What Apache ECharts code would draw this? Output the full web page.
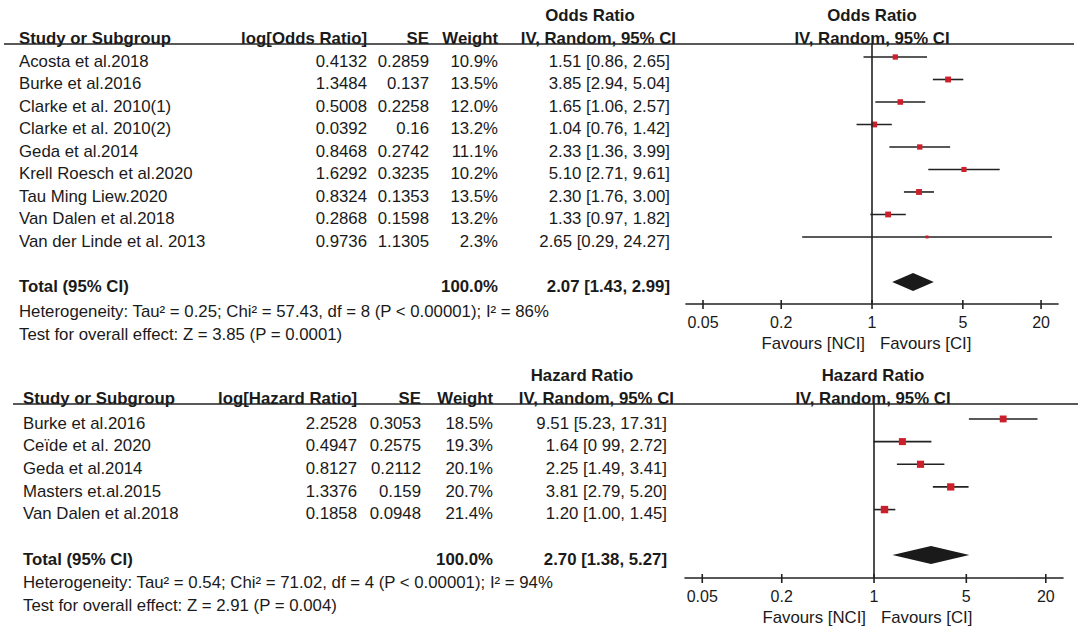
<!DOCTYPE html>
<html><head><meta charset="utf-8">
<script src="https://cdn.jsdelivr.net/npm/echarts@6/dist/echarts.min.js"></script>
<style>html,body{margin:0;padding:0;background:#fff}#c{width:1084px;height:633px}</style>
</head><body><div id="c"></div>
<script>
// ---------- Odds ratio panel data ----------
const orStudies = ['Acosta et al.2018','Burke et al.2016','Clarke et al. 2010(1)','Clarke et al. 2010(2)','Geda et al.2014','Krell Roesch et al.2020','Tau Ming Liew.2020','Van Dalen et al.2018','Van der Linde et al. 2013'];
const orLog = ['0.4132','1.3484','0.5008','0.0392','0.8468','1.6292','0.8324','0.2868','0.9736'];
const orSE = ['0.2859','0.137','0.2258','0.16','0.2742','0.3235','0.1353','0.1598','1.1305'];
const orWeight = [10.9,13.5,12.0,13.2,11.1,10.2,13.5,13.2,2.3];
const orEst = [1.51,3.85,1.65,1.04,2.33,5.10,2.30,1.33,2.65];
const orLo = [0.86,2.94,1.06,0.76,1.36,2.71,1.76,0.97,0.29];
const orHi = [2.65,5.04,2.57,1.42,3.99,9.61,3.00,1.82,24.27];
const orCI = ['1.51 [0.86, 2.65]','3.85 [2.94, 5.04]','1.65 [1.06, 2.57]','1.04 [0.76, 1.42]','2.33 [1.36, 3.99]','5.10 [2.71, 9.61]','2.30 [1.76, 3.00]','1.33 [0.97, 1.82]','2.65 [0.29, 24.27]'];
const orTotal = [2.07,1.43,2.99];
const orTotalText = '2.07 [1.43, 2.99]';
const orHet = 'Heterogeneity: Tau² = 0.25; Chi² = 57.43, df = 8 (P < 0.00001); I² = 86%';
const orTest = 'Test for overall effect: Z = 3.85 (P = 0.0001)';

// ---------- Hazard ratio panel data ----------
const hrStudies = ['Burke et al.2016','Ceïde et al. 2020','Geda et al.2014','Masters et.al.2015','Van Dalen et al.2018'];
const hrLog = ['2.2528','0.4947','0.8127','1.3376','0.1858'];
const hrSE = ['0.3053','0.2575','0.2112','0.159','0.0948'];
const hrWeight = [18.5,19.3,20.1,20.7,21.4];
const hrEst = [9.51,1.64,2.25,3.81,1.20];
const hrLo = [5.23,0.99,1.49,2.79,1.00];
const hrHi = [17.31,2.72,3.41,5.20,1.45];
const hrCI = ['9.51 [5.23, 17.31]','1.64 [0 99, 2.72]','2.25 [1.49, 3.41]','3.81 [2.79, 5.20]','1.20 [1.00, 1.45]'];
const hrTotal = [2.70,1.38,5.27];
const hrTotalText = '2.70 [1.38, 5.27]';
const hrHet = 'Heterogeneity: Tau² = 0.54; Chi² = 71.02, df = 4 (P < 0.00001); I² = 94%';
const hrTest = 'Test for overall effect: Z = 2.91 (P = 0.004)';

// ---------- axis ticks ----------
const tickValues = [0.05,0.2,1,5,20];
const tickLabels = ['0.05','0.2','1','5','20'];
const axisMin = 0.037, axisMax = 27;

const FONT = '"Liberation Sans", Arial, sans-serif';
const FS = 16;
const SX = 1.05;
const TXT = '#1a1a1a';
const RED = '#cc1f2b';

const chart = echarts.init(document.getElementById('c'), null, {renderer:'svg'});

function txt(x, y, s, align, bold) {
  return {type:'text', x:x, y:y, scaleX:SX, silent:true,
    style:{text:s, fill:TXT, fontSize:FS, fontFamily:FONT, fontWeight: bold ? 'bold' : 'normal', align:align||'left', verticalAlign:'middle'}};
}

function buildPanel(idx, L) {
  const grid = {left:L.gLeft, width:L.gWidth, top:L.gTop, height:L.gHeight, containLabel:false};
  const xAxis = {type:'log', logBase:10, gridIndex:idx, min:axisMin, max:axisMax,
    axisLine:{show:true, onZero:false, lineStyle:{color:'#222', width:1.6}},
    axisTick:{show:false}, minorTick:{show:false}, splitLine:{show:false},
    axisLabel:{customValues:tickValues, margin:10, color:TXT, fontSize:FS, fontFamily:FONT,
      formatter:function(v){ let b=0; tickValues.forEach((t,i)=>{ if(Math.abs(Math.log(t)-Math.log(v))<Math.abs(Math.log(tickValues[b])-Math.log(v))) b=i;}); return tickLabels[b]; }}};
  const yAxis = {type:'value', gridIndex:idx, inverse:true, min:L.yMin, max:L.yMax, show:false};
  const d = L.data;
  const series = [];
  series.push({type:'custom', xAxisIndex:idx, yAxisIndex:idx, clip:false, silent:true,
    data: d.est.map((e,k)=>[e,k,d.lo[k],d.hi[k],d.w[k]]),
    encode:{x:0,y:1},
    renderItem:function(params, api){
      const r = api.value(1);
      const p = api.coord([api.value(0), r]);
      const a = api.coord([api.value(2), r]);
      const b = api.coord([api.value(3), r]);
      const s = Math.max(3, 1.6*Math.sqrt(api.value(4)));
      return {type:'group', children:[
        {type:'line', shape:{x1:a[0],y1:p[1],x2:b[0],y2:p[1]}, style:{stroke:'#222', lineWidth:1.6}},
        {type:'rect', shape:{x:p[0]-s/2,y:p[1]-s/2,width:s,height:s}, style:{fill:RED}}
      ]};
    },
    markLine:{silent:true, symbol:['none','none'], label:{show:false},
      lineStyle:{color:'#222', width:1.6, type:'solid'}, data:[{xAxis:1}]}
  });
  series.push({type:'custom', xAxisIndex:idx, yAxisIndex:idx, clip:false, silent:true,
    data:[[d.total[0], d.totalRow, d.total[1], d.total[2]]],
    encode:{x:0,y:1},
    renderItem:function(params, api){
      const r = api.value(1);
      const p = api.coord([api.value(0), r]);
      const a = api.coord([api.value(2), r]);
      const b = api.coord([api.value(3), r]);
      return {type:'polygon', shape:{points:[[a[0],p[1]],[p[0],p[1]-9],[b[0],p[1]],[p[0],p[1]+9]]}, style:{fill:'#1a1a1a'}};
    }
  });
  series.push({type:'custom', xAxisIndex:idx, yAxisIndex:idx, clip:false, silent:true,
    data: tickValues.map(v=>[v, L.yMax]),
    encode:{x:0,y:1},
    renderItem:function(params, api){
      const p = api.coord([api.value(0), api.value(1)]);
      return {type:'line', shape:{x1:p[0],y1:p[1]-4,x2:p[0],y2:p[1]+5}, style:{stroke:'#222', lineWidth:1.6}};
    }
  });
  series.push({type:'custom', xAxisIndex:idx, yAxisIndex:idx, clip:false, silent:true,
    data: d.names.map((n,k)=>[1,k]),
    encode:{x:0,y:1},
    renderItem:function(params, api){
      const k = params.dataIndex;
      const y = api.coord([1, api.value(1)])[1] + 4;
      return {type:'group', children:[
        txt(L.cName, y, d.names[k], 'left'),
        txt(L.cLog, y, d.logv[k], 'right'),
        txt(L.cSE, y, d.se[k], 'right'),
        txt(L.cW, y, d.w[k].toFixed(1)+'%', 'right'),
        txt(L.cCI, y, d.ci[k], 'right')
      ]};
    }
  });
  series.push({type:'custom', xAxisIndex:idx, yAxisIndex:idx, clip:false, silent:true,
    data:[[1, d.totalRow]], encode:{x:0,y:1},
    renderItem:function(params, api){
      const y = api.coord([1, api.value(1)])[1] + 4;
      return {type:'group', children:[
        txt(L.cName, y, 'Total (95% CI)', 'left', true),
        txt(L.cW, y, '100.0%', 'right', true),
        txt(L.cCI, y, d.totalText, 'right', true)
      ]};
    }
  });
  const g = [
    txt(L.cTitle, L.yTitle, L.title, 'center', true),
    txt(L.plotMid, L.yTitle, L.title, 'center', true),
    txt(L.cName, L.yHead, 'Study or Subgroup', 'left', true),
    txt(L.cLog, L.yHead, L.logHead, 'right', true),
    txt(L.cSE, L.yHead, 'SE', 'right', true),
    txt(L.cW, L.yHead, 'Weight', 'right', true),
    txt(L.cCIH, L.yHead, 'IV, Random, 95% CI', 'right', true),
    txt(L.plotMid, L.yHead, 'IV, Random, 95% CI', 'center', true),
    {type:'line', silent:true, shape:{x1:L.ruleL, y1:L.gTop, x2:L.ruleR, y2:L.gTop}, style:{stroke:'#222', lineWidth:1.6}},
    txt(L.cName, L.yHet, d.het, 'left'),
    txt(L.cName, L.yTest, d.test, 'left'),
    txt(L.plotMid-7, L.yFav, 'Favours [NCI]', 'right'),
    txt(L.plotMid+8, L.yFav, 'Favours [CI]', 'left')
  ];
  return {grid, xAxis, yAxis, series, g};
}

const panelTop = buildPanel(0, {
  gLeft:686, gWidth:372, gTop:44, gHeight:260, yMin:-0.578, yMax:10.98,
  cName:19, cLog:367, cSE:429, cW:498, cCI:670, cCIH:676, cTitle:590, plotMid:872,
  yTitle:15, yHead:38, yHet:311, yTest:334, yFav:343, ruleL:4, ruleR:1074,
  title:'Odds Ratio', logHead:'log[Odds Ratio]',
  data:{names:orStudies, logv:orLog, se:orSE, w:orWeight, est:orEst, lo:orLo, hi:orHi, ci:orCI,
        total:orTotal, totalText:orTotalText, totalRow:10, het:orHet, test:orTest}
});
const panelBot = buildPanel(1, {
  gLeft:685, gWidth:378, gTop:404, gHeight:174, yMin:-0.66, yMax:7.02,
  cName:23, cLog:357, cSE:421, cW:493, cCI:667, cCIH:674, cTitle:582, plotMid:873,
  yTitle:375, yHead:398, yHet:582, yTest:605, yFav:617, ruleL:13, ruleR:1078,
  title:'Hazard Ratio', logHead:'log[Hazard Ratio]',
  data:{names:hrStudies, logv:hrLog, se:hrSE, w:hrWeight, est:hrEst, lo:hrLo, hi:hrHi, ci:hrCI,
        total:hrTotal, totalText:hrTotalText, totalRow:6, het:hrHet, test:hrTest}
});

chart.setOption({
  backgroundColor:'#fff',
  animation:false,
  textStyle:{fontFamily:FONT},
  grid:[panelTop.grid, panelBot.grid],
  xAxis:[panelTop.xAxis, panelBot.xAxis],
  yAxis:[panelTop.yAxis, panelBot.yAxis],
  series:panelTop.series.concat(panelBot.series),
  graphic:{elements: panelTop.g.concat(panelBot.g)}
});
</script></body></html>
